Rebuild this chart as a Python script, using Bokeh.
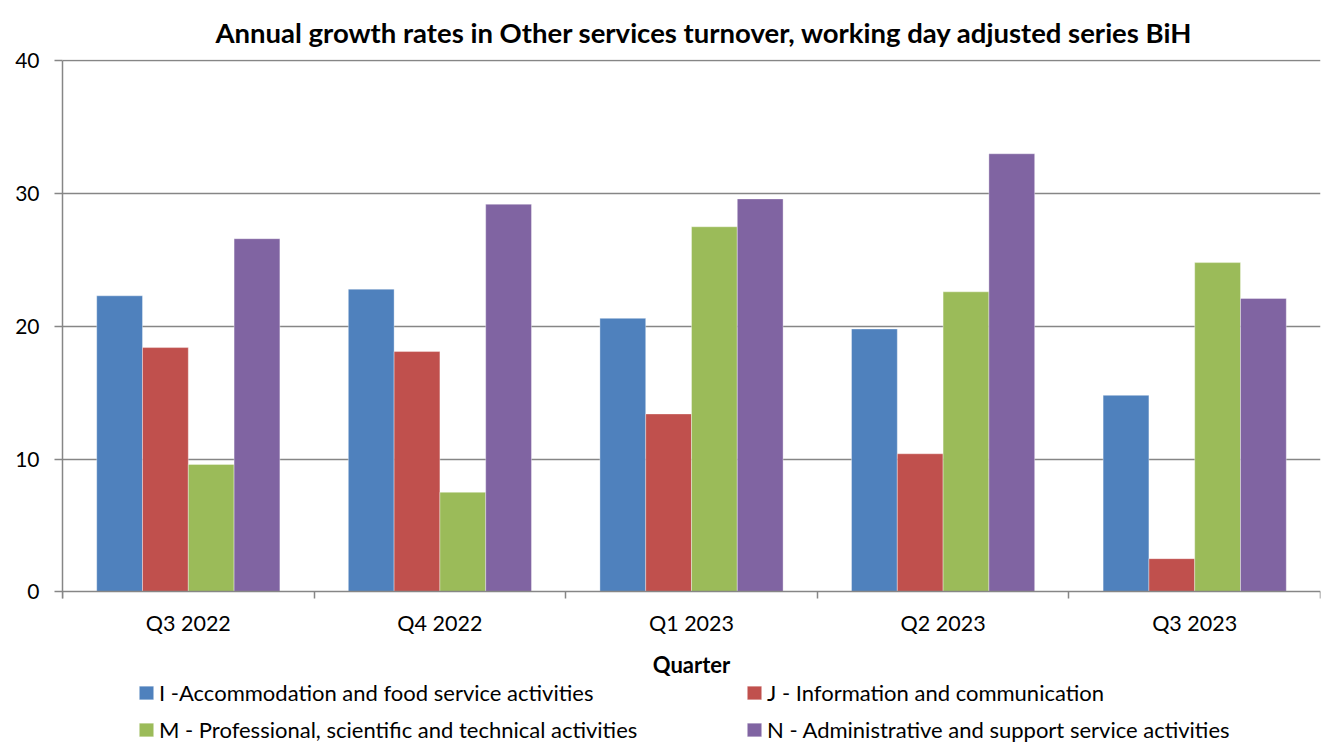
import numpy as np
from bokeh.plotting import figure
from bokeh.models import ColumnDataSource, FixedTicker, Legend, LegendItem, Range1d
from bokeh.transform import dodge
from bokeh.embed import file_html
from bokeh.resources import INLINE

quarters = ["Q3 2022", "Q4 2022", "Q1 2023", "Q2 2023", "Q3 2023"]
series_names = [
    "I -Accommodation and food service activities",
    "J - Information and communication",
    "M - Professional, scientific and technical activities",
    "N - Administrative and support service activities",
]
accommodation = [22.3, 22.8, 20.6, 19.8, 14.8]
information = [18.4, 18.1, 13.4, 10.4, 2.5]
professional = [9.6, 7.5, 27.5, 22.6, 24.8]
administrative = [26.6, 29.2, 29.6, 33.0, 22.1]
y_ticks = [0, 10, 20, 30, 40]
colors = ["#4F81BD", "#C0504D", "#9BBB59", "#8064A2"]

FONT = "Lato"
GRID = "#868686"

n = len(quarters)
centers = (np.arange(n) + 0.5).tolist()
src = ColumnDataSource(dict(
    x=centers,
    I=accommodation, J=information, M=professional, N=administrative,
))

# The frame extends down to the bottom of the page so that the x axis
# (fixed at y=0) and the legend below it lie inside it.
p = figure(width=1322, height=744, output_backend="svg", toolbar_location=None,
           x_range=Range1d(0, n), y_range=Range1d(-11.5, 40.1),
           min_border_left=62, min_border_right=2, min_border_top=59,
           min_border_bottom=0)
p.outline_line_color = None
p.background_fill_color = "white"

bw = 0.182
keys = ["I", "J", "M", "N"]
offsets = [-1.5 * bw, -0.5 * bw, 0.5 * bw, 1.5 * bw]
renderers = []
for k, off, c in zip(keys, offsets, colors):
    r = p.vbar(x=dodge("x", off), top=k, width=bw, bottom=0, source=src,
               fill_color=c, line_color="white", line_alpha=0.45, line_width=0.8)
    renderers.append(r)

# title
p.title.text = "Annual growth rates in Other services turnover, working day adjusted series BiH"
p.title.text_font = FONT
p.title.text_font_size = "27.5px"
p.title.text_font_style = "bold"
p.title.align = "left"
p.title.offset = 153
p.title.text_color = "black"
p.title.standoff = 22

# x axis, fixed at y = 0
xa = p.xaxis[0]
xa.fixed_location = 0
xa.ticker = FixedTicker(ticks=centers, minor_ticks=list(range(n + 1)))
xa.major_label_overrides = {c: q for c, q in zip(centers, quarters)}
xa.major_tick_out = 0
xa.major_tick_in = 0
xa.minor_tick_out = 7
xa.minor_tick_in = 0
xa.minor_tick_line_color = GRID
xa.minor_tick_line_width = 1.5
xa.axis_line_color = GRID
xa.axis_line_width = 1.5
xa.major_label_text_font = FONT
xa.major_label_text_font_size = "21.5px"
xa.major_label_text_color = "black"
xa.major_label_standoff = 11
xa.axis_label = "Quarter"
xa.axis_label_text_font = FONT
xa.axis_label_text_font_size = "22px"
xa.axis_label_text_font_style = "bold"
xa.axis_label_text_color = "black"
xa.axis_label_standoff = 12

# y axis
ya = p.yaxis[0]
ya.ticker = FixedTicker(ticks=y_ticks, minor_ticks=[])
ya.bounds = (-0.5, 40)
ya.major_tick_out = 8
ya.major_tick_in = 0
ya.major_tick_line_color = GRID
ya.major_tick_line_width = 1.5
ya.axis_line_color = GRID
ya.axis_line_width = 1.5
ya.major_label_text_font = FONT
ya.major_label_text_font_size = "21px"
ya.major_label_text_color = "black"
ya.major_label_standoff = 15

p.xgrid.grid_line_color = None
p.ygrid.grid_line_color = GRID
p.ygrid.grid_line_width = 1.5
p.ygrid.ticker = FixedTicker(ticks=y_ticks[1:])

def make_legend(items, vy):
    return Legend(items=items, orientation="horizontal", location=(75, vy),
                  label_text_font=FONT, label_text_font_size="22px",
                  label_text_color="black", glyph_width=18, glyph_height=17,
                  label_standoff=4, label_width=570, spacing=16, padding=0,
                  margin=0, border_line_color=None, background_fill_alpha=0)

items1 = [LegendItem(label=series_names[0], renderers=[renderers[0]]),
          LegendItem(label=series_names[1], renderers=[renderers[1]])]
items2 = [LegendItem(label=series_names[2], renderers=[renderers[2]]),
          LegendItem(label=series_names[3], renderers=[renderers[3]])]
p.add_layout(make_legend(items1, 38), "center")
p.add_layout(make_legend(items2, 1), "center")

open("out.html", "w").write(file_html(p, INLINE))
